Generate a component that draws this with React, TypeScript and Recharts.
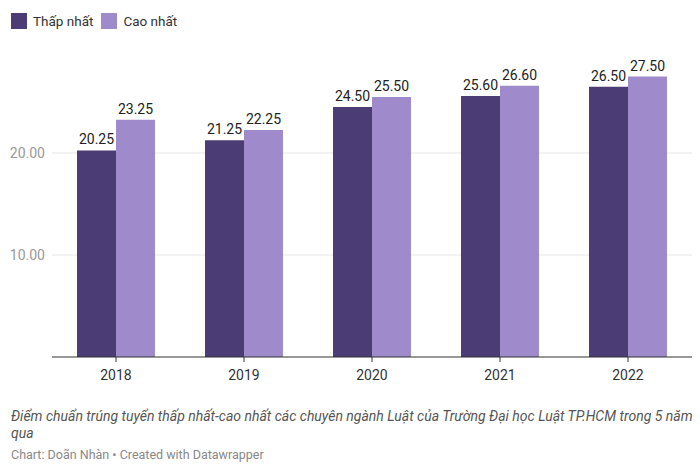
import React from 'react';
import {BarChart, Bar, XAxis, YAxis, CartesianGrid, LabelList} from 'recharts';

const years = ['2018', '2019', '2020', '2021', '2022'];
const thapNhat = [20.25, 21.25, 24.5, 25.6, 26.5];
const caoNhat = [23.25, 22.25, 25.5, 26.6, 27.5];
const yTicks = [10, 20];

const DARK = '#4b3c75';
const LIGHT = '#9f8bcb';
const FONT = 'Roboto, "Noto Sans", sans-serif';

const data = years.map((year, i) => ({year, thap: thapNhat[i], cao: caoNhat[i]}));

const fmt = (v: any) => Number(v).toFixed(2);

const LegendItem = ({color, label}: {color: string; label: string}) => (
    <div style={{display: 'flex', alignItems: 'center', marginRight: 8}}>
        <span style={{width: 16, height: 16, background: color, display: 'inline-block', marginRight: 6}}/>
        <span style={{fontSize: 13.5, color: '#333'}}>{label}</span>
    </div>
);

const App: React.FC = () => {
    return (
        <div style={{position: 'relative', width: 700, height: 474, fontFamily: FONT, background: '#fff'}}>
            <style>{'body{margin:0}'}</style>
            <div style={{position: 'absolute', left: 11, top: 13, display: 'flex'}}>
                <LegendItem color={DARK} label="Thấp nhất"/>
                <LegendItem color={LIGHT} label="Cao nhất"/>
            </div>
            <div style={{position: 'absolute', left: 0, top: 0}}>
                <BarChart
                    width={700}
                    height={400}
                    data={data}
                    margin={{top: 51, right: 8, left: 0, bottom: 13}}
                    barCategoryGap={25}
                    barGap={0}
                >
                    <CartesianGrid vertical={false} stroke="#e6e6e6" horizontalValues={yTicks}/>
                    <XAxis
                        dataKey="year"
                        height={30}
                        axisLine={{stroke: '#333'}}
                        tickLine={{stroke: '#333'}}
                        tickSize={5}
                        tickMargin={8}
                        tick={{fill: '#333', fontSize: 14, fontFamily: FONT}}
                    />
                    <YAxis
                        width={52}
                        domain={[0, 30]}
                        ticks={yTicks}
                        tickFormatter={fmt}
                        axisLine={false}
                        tickLine={false}
                        tickSize={0}
                        tickMargin={7}
                        tick={{fill: '#999', fontSize: 14, fontFamily: FONT}}
                    />
                    <Bar dataKey="thap" fill={DARK} isAnimationActive={false}>
                        <LabelList dataKey="thap" position="top" offset={6} formatter={fmt}
                                   style={{fill: '#222', fontSize: 14, fontFamily: FONT}}/>
                    </Bar>
                    <Bar dataKey="cao" fill={LIGHT} isAnimationActive={false}>
                        <LabelList dataKey="cao" position="top" offset={6} formatter={fmt}
                                   style={{fill: '#222', fontSize: 14, fontFamily: FONT}}/>
                    </Bar>
                </BarChart>
            </div>
            <div style={{position: 'absolute', left: 11, top: 408, width: 685, fontSize: 14, fontStyle: 'italic', color: '#555', lineHeight: '17px'}}>
                Điểm chuẩn trúng tuyển thấp nhất-cao nhất các chuyên ngành Luật của Trường Đại học Luật TP.HCM trong 5 năm qua
            </div>
            <div style={{position: 'absolute', left: 11, top: 447, fontSize: 12.5, color: '#888'}}>
                Chart: Doãn Nhàn • Created with Datawrapper
            </div>
        </div>
    );
};

export default App;
